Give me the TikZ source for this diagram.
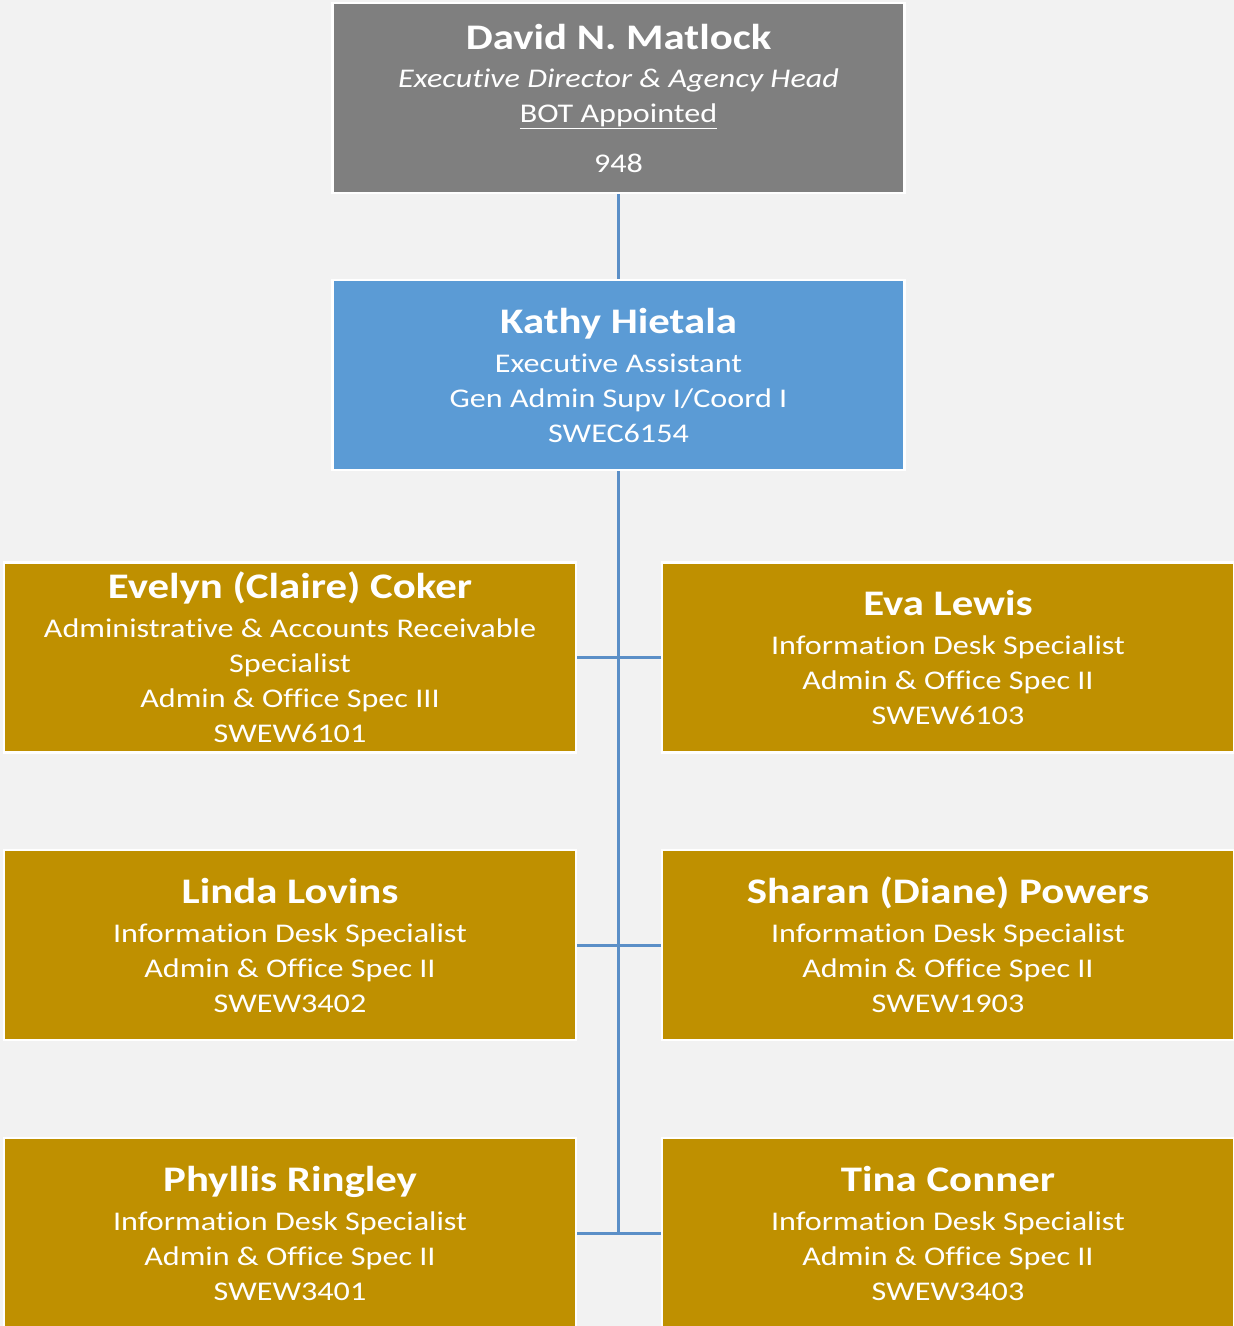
\documentclass[tikz,border=0pt]{standalone}
\usepackage{fontspec}
\setmainfont{Carlito}[FakeStretch=1.19, Ligatures=NoCommon]
\definecolor{pagegray}{HTML}{F2F2F2}
\definecolor{headgray}{HTML}{7F7F7F}
\definecolor{assistblue}{HTML}{5B9BD5}
\definecolor{staffgold}{HTML}{BF9000}
\definecolor{linkblue}{RGB}{91,143,199}
\newcommand\bodyfont{\fontsize{27}{35}\selectfont}
\newcommand\namefont{\fontsize{36}{41}\selectfont\bfseries}
\tikzset{
  chartbox/.style={draw=white, line width=2.5pt, minimum width=572pt, minimum height=190pt,
    inner sep=0pt, align=center, text=white, font=\bodyfont},
  headbox/.style={chartbox, fill=headgray},
  assistbox/.style={chartbox, fill=assistblue},
  staffbox/.style={chartbox, fill=staffgold},
  link/.style={draw=linkblue, line width=3pt}
}

\begin{document}
\begin{tikzpicture}[x=1pt, y=-1pt]
			%%%%% START %%%%%
			
			\fill[pagegray] (0, 0) rectangle (1234, 1326);
			\useasboundingbox (0, 0) rectangle (1234, 1326);
			\clip (0, 0) rectangle (1234, 1326);
			
			\node[headbox] (boss) at (618.5, 98) {{\namefont David N. Matlock}\\[3pt]
				\textit{Executive Director \& Agency Head}\\
				\underline{BOT Appointed}\\[15pt]
				948};
			
			\node[assistbox] (assistant) at (618.5, 375) {{\namefont Kathy Hietala}\\[4pt]
				Executive Assistant\\
				Gen Admin Supv I/Coord I\\
				SWEC6154};
			
			\node[staffbox] (coker) at (290, 657.5) {{\namefont Evelyn (Claire) Coker}\\[4pt]
				Administrative \& Accounts Receivable\\
				Specialist\\
				Admin \& Office Spec III\\
				SWEW6101};
			\node[staffbox] (lewis) at (948, 657.5) {{\namefont Eva Lewis}\\[4pt]
				Information Desk Specialist\\
				Admin \& Office Spec II\\
				SWEW6103};
			
			\node[staffbox] (lovins) at (290, 945) {{\namefont Linda Lovins}\\[4pt]
				Information Desk Specialist\\
				Admin \& Office Spec II\\
				SWEW3402};
			\node[staffbox] (powers) at (948, 945) {{\namefont Sharan (Diane) Powers}\\[4pt]
				Information Desk Specialist\\
				Admin \& Office Spec II\\
				SWEW1903};
			
			\node[staffbox] (ringley) at (290, 1233) {{\namefont Phyllis Ringley}\\[4pt]
				Information Desk Specialist\\
				Admin \& Office Spec II\\
				SWEW3401};
			\node[staffbox] (conner) at (948, 1233) {{\namefont Tina Conner}\\[4pt]
				Information Desk Specialist\\
				Admin \& Office Spec II\\
				SWEW3403};
			
			\draw[link] (boss) -- (assistant);
			\draw[link] (assistant.south) -- (ringley.east -| assistant.south);
			\draw[link] (coker) -- (lewis);
			\draw[link] (lovins) -- (powers);
			\draw[link] (ringley) -- (conner);
			
			%%%%% END %%%%%
\end{tikzpicture}
\end{document}
